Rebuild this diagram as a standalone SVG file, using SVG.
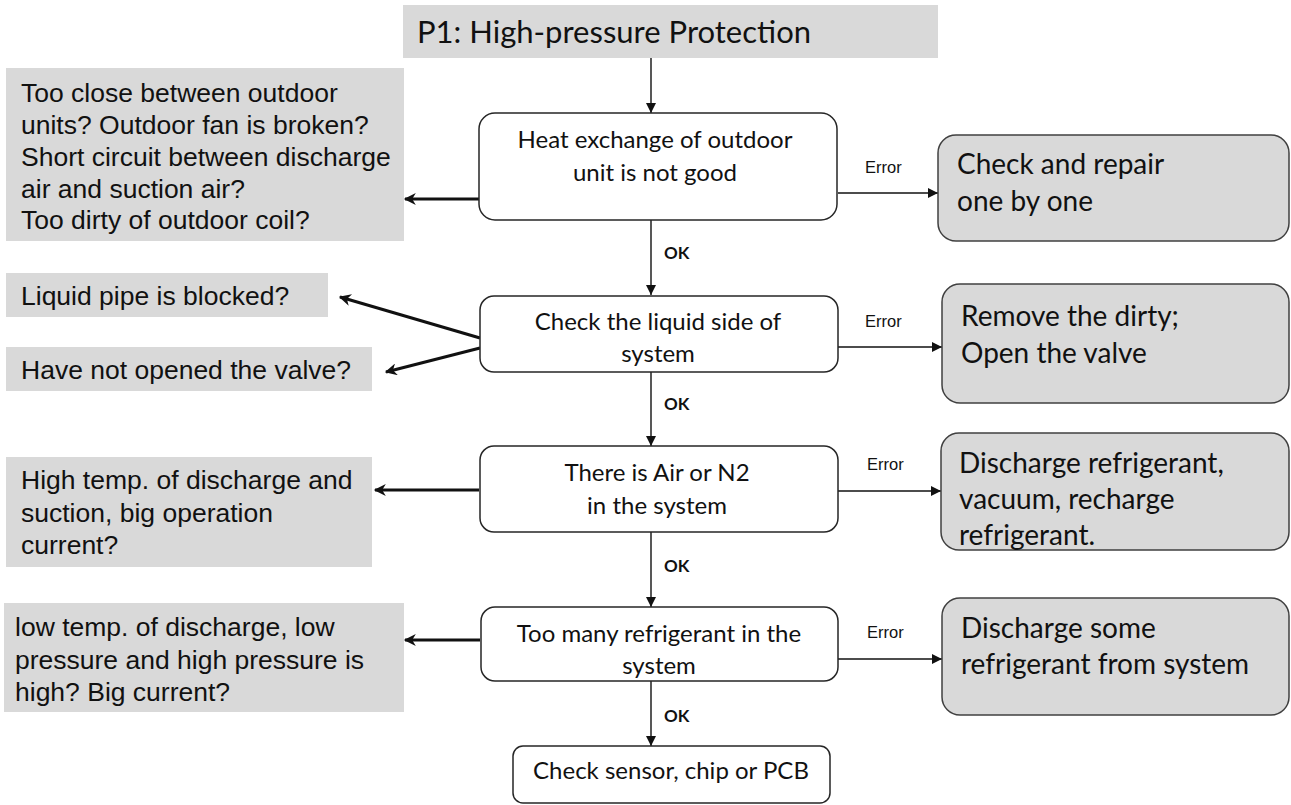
<svg xmlns="http://www.w3.org/2000/svg" width="1291" height="805" viewBox="0 0 1291 805">
<style>
.bg{fill:#ffffff}
.grey{fill:#d9d9d9}
.flow{fill:#ffffff;stroke:#262626;stroke-width:1.5}
.act{fill:#d9d9d9;stroke:#404040;stroke-width:1.5}
.cal{font-family:Lato,"Liberation Sans",sans-serif;fill:#111}
.ari{font-family:"Liberation Sans",Arial,sans-serif;fill:#111;font-size:26.5px}
.fl{font-size:24px}
.rt{font-size:28px}
.thin{stroke:#111;stroke-width:1.4;fill:none}
.thick{stroke:#111;stroke-width:3;fill:none}
.err{font-family:"Liberation Sans",Arial,sans-serif;font-size:16.5px;fill:#111}
.ok{font-family:Lato,"Liberation Sans",sans-serif;font-size:17px;font-weight:bold;fill:#111}
</style>
<defs>
<marker id="ah" viewBox="0 0 10 10" refX="10" refY="5" markerWidth="10" markerHeight="10" markerUnits="userSpaceOnUse" orient="auto">
<path d="M0,0 L10,5 L0,10 z" fill="#111"/>
</marker>
<marker id="ahb" viewBox="0 0 10 10" refX="9" refY="5" markerWidth="14" markerHeight="12" markerUnits="userSpaceOnUse" orient="auto">
<path d="M0,0 L10,5 L0,10 L3,5 z" fill="#111"/>
</marker>
</defs>
<rect class="bg" x="0" y="0" width="1291" height="805"/>

<g id="connectors">
<line class="thin" x1="651" y1="58" x2="651" y2="113" marker-end="url(#ah)"/>
<line class="thin" x1="651" y1="220" x2="651" y2="295" marker-end="url(#ah)"/>
<line class="thin" x1="651" y1="372" x2="651" y2="446" marker-end="url(#ah)"/>
<line class="thin" x1="651" y1="532" x2="651" y2="607" marker-end="url(#ah)"/>
<line class="thin" x1="651" y1="681" x2="651" y2="746" marker-end="url(#ah)"/>
<line class="thin" x1="838" y1="193" x2="938" y2="193" marker-end="url(#ah)"/>
<line class="thin" x1="838" y1="347" x2="942" y2="347" marker-end="url(#ah)"/>
<line class="thin" x1="838" y1="491" x2="941" y2="491" marker-end="url(#ah)"/>
<line class="thin" x1="838" y1="659" x2="942" y2="659" marker-end="url(#ah)"/>
<line class="thick" x1="479" y1="199" x2="405" y2="199" marker-end="url(#ahb)"/>
<line class="thick" x1="480" y1="338" x2="340" y2="297" marker-end="url(#ahb)"/>
<line class="thick" x1="480" y1="348" x2="386" y2="372" marker-end="url(#ahb)"/>
<line class="thick" x1="479" y1="490" x2="375" y2="490" marker-end="url(#ahb)"/>
<line class="thick" x1="480" y1="640" x2="405" y2="640" marker-end="url(#ahb)"/>
<text class="err" x="865" y="173">Error</text>
<text class="err" x="865" y="327">Error</text>
<text class="err" x="867" y="470">Error</text>
<text class="err" x="867" y="638">Error</text>
<text class="ok" x="664" y="259">OK</text>
<text class="ok" x="664" y="410">OK</text>
<text class="ok" x="664" y="572">OK</text>
<text class="ok" x="664" y="722">OK</text>
</g>

<g id="title">
<rect class="grey" x="403" y="5" width="535" height="53"/>
<text class="cal" x="417" y="43" font-size="31">P1: High-pressure Protection</text>
</g>

<g id="step1">
<rect class="flow" x="479" y="113" width="358" height="107" rx="16"/>
<text class="cal fl" x="655" y="148" text-anchor="middle">Heat exchange of outdoor</text>
<text class="cal fl" x="655" y="181" text-anchor="middle">unit is not good</text>
</g>

<g id="step2">
<rect class="flow" x="480" y="296" width="358" height="76" rx="14"/>
<text class="cal fl" x="658" y="330" text-anchor="middle">Check the liquid side of</text>
<text class="cal fl" x="658" y="362" text-anchor="middle">system</text>
</g>

<g id="step3">
<rect class="flow" x="480" y="446" width="358" height="86" rx="14"/>
<text class="cal fl" x="657" y="481" text-anchor="middle">There is Air or N2</text>
<text class="cal fl" x="657" y="514" text-anchor="middle">in the system</text>
</g>

<g id="step4">
<rect class="flow" x="481" y="607" width="357" height="74" rx="14"/>
<text class="cal fl" x="659" y="642" text-anchor="middle">Too many refrigerant in the</text>
<text class="cal fl" x="659" y="674" text-anchor="middle">system</text>
</g>

<g id="final">
<rect class="flow" x="513" y="746" width="317" height="57" rx="10"/>
<text class="cal fl" x="671" y="779" text-anchor="middle">Check sensor, chip or PCB</text>
</g>

<g id="fix1">
<rect class="act" x="938" y="135" width="351" height="106" rx="18"/>
<text class="cal rt" x="957" y="174">Check and repair</text>
<text class="cal rt" x="957" y="211">one by one</text>
</g>

<g id="fix2">
<rect class="act" x="942" y="284" width="347" height="119" rx="18"/>
<text class="cal rt" x="961" y="326">Remove the dirty;</text>
<text class="cal rt" x="961" y="363">Open the valve</text>
</g>

<g id="fix3">
<rect class="act" x="941" y="433" width="348" height="117" rx="18"/>
<text class="cal rt" x="959" y="473">Discharge refrigerant,</text>
<text class="cal rt" x="959" y="509">vacuum, recharge</text>
<text class="cal rt" x="959" y="545">refrigerant.</text>
</g>

<g id="fix4">
<rect class="act" x="942" y="598" width="347" height="117" rx="18"/>
<text class="cal rt" x="961" y="638">Discharge some</text>
<text class="cal rt" x="961" y="674">refrigerant from system</text>
</g>

<g id="cause1">
<rect class="grey" x="6" y="68" width="398" height="173"/>
<text class="ari" x="21" y="102">Too close between outdoor</text>
<text class="ari" x="21" y="134">units? Outdoor fan is broken?</text>
<text class="ari" x="21" y="166">Short circuit between discharge</text>
<text class="ari" x="21" y="198">air and suction air?</text>
<text class="ari" x="21" y="229">Too dirty of outdoor coil?</text>
</g>

<g id="cause2a">
<rect class="grey" x="6" y="273" width="322" height="44"/>
<text class="ari" x="21" y="305">Liquid pipe is blocked?</text>
</g>

<g id="cause2b">
<rect class="grey" x="6" y="347" width="366" height="44"/>
<text class="ari" x="21" y="379">Have not opened the valve?</text>
</g>

<g id="cause3">
<rect class="grey" x="6" y="457" width="366" height="110"/>
<text class="ari" x="21" y="489">High temp. of discharge and</text>
<text class="ari" x="21" y="522">suction, big operation</text>
<text class="ari" x="21" y="554">current?</text>
</g>

<g id="cause4">
<rect class="grey" x="4" y="603" width="400" height="109"/>
<text class="ari" x="15" y="636">low temp. of discharge, low</text>
<text class="ari" x="15" y="669">pressure and high pressure is</text>
<text class="ari" x="15" y="701">high? Big current?</text>
</g>
</svg>
